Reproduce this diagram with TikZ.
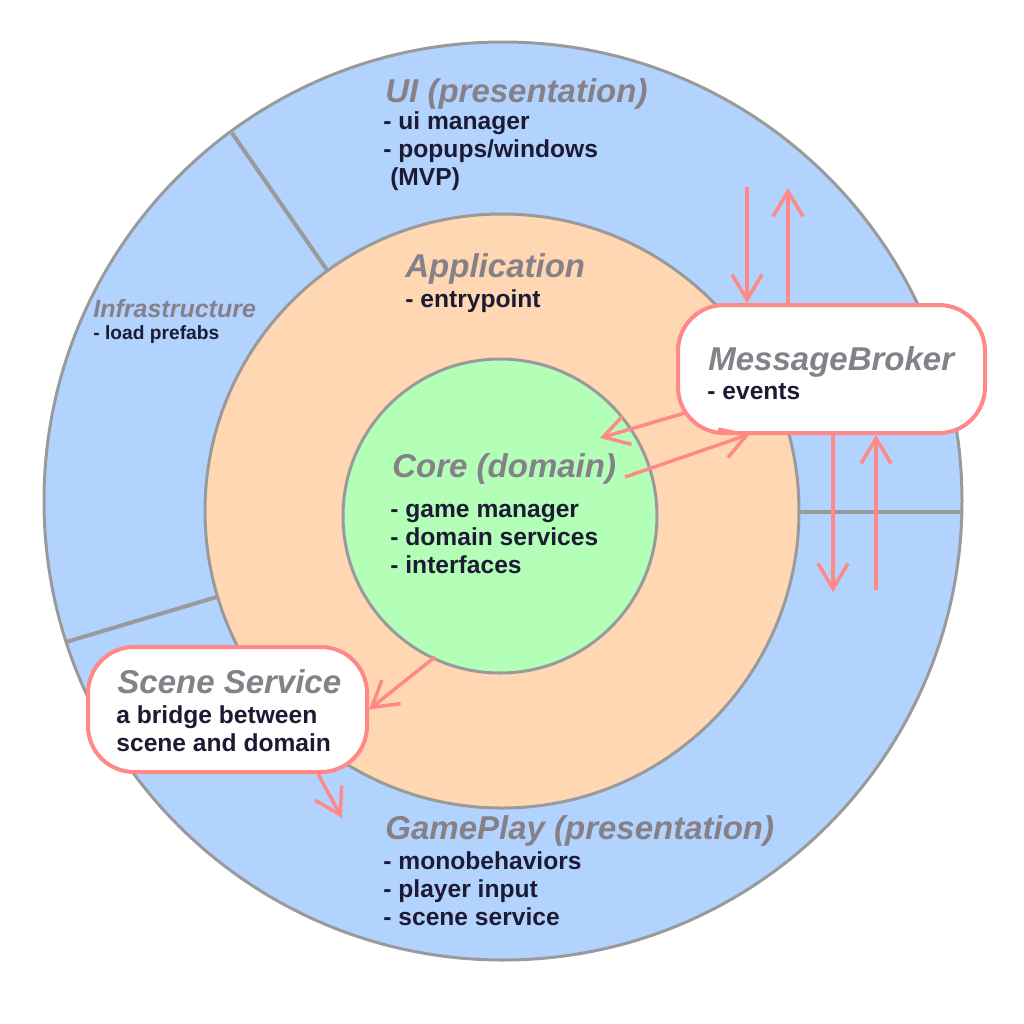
\documentclass[tikz,border=0pt]{standalone}
\usepackage{fontspec}
\setmainfont{Liberation Sans}
\usetikzlibrary{arrows.meta}
\definecolor{ringblue}{HTML}{B3D3FF}
\definecolor{ringpeach}{HTML}{FFD8B3}
\definecolor{ringgreen}{HTML}{B3FFB8}
\definecolor{edgegray}{HTML}{9A9A9A}
\definecolor{pinkline}{HTML}{FF8888}
\definecolor{titlegray}{HTML}{868088}
\definecolor{bodynavy}{HTML}{1C1B33}
\begin{document}
\begin{tikzpicture}[x=0.5pt,y=-0.5pt,
  ringstyle/.style={circle,draw=edgegray,line width=1.5pt,inner sep=0pt},
  divider/.style={draw=edgegray,line width=2pt},
  layertitle/.style={anchor=base west,inner sep=0pt,text=titlegray,font=\fontsize{16.5}{18}\selectfont\bfseries\itshape},
  layerbody/.style={anchor=base west,inner sep=0pt,text=bodynavy,align=left,font=\fontsize{12.3}{14}\selectfont\bfseries},
  arr/.style={draw=pinkline,line width=1.75pt,-{Straight Barb[length=12.5pt,width=15pt]}},
  bubble/.style={draw=pinkline,fill=white,line width=2pt,rounded corners=23pt,inner sep=0pt}]
\fill[white] (0,0) rectangle (1024,1024);
\useasboundingbox (0,0) rectangle (1024,1024);
% rings
\node[ringstyle, fill=ringblue, minimum size=459pt] (outer) at (503,501) {};
\draw[divider] (232,133) -- (329,273);
\draw[divider] (66,642) -- (220,596);
\draw[divider] (790,512) -- (962,512);
\node[ringstyle, fill=ringpeach, minimum size=297pt] (middle) at (502,511) {};
\node[ringstyle, fill=ringgreen, minimum size=157pt] (inner) at (500,516) {};
% free ends of connectors
\coordinate (mbInTop) at (747,187);
\coordinate (mbOutTop) at (788,188);
\coordinate (mbOutBot) at (833,592);
\coordinate (mbInBot) at (876,590);
\coordinate (coreIn) at (600,438);
\coordinate (mbLeftOut) at (685,413);
\coordinate (coreOut) at (625,477);
\coordinate (mbBotIn) at (750,434);
\coordinate (coreSS) at (435,657);
\coordinate (ssBotX) at (318,0);
\coordinate (gpTarget) at (342,818);
% boxes
\node[bubble, minimum width=153.5pt, minimum height=64pt] (mb) at (831.5,369) {};
\node[bubble, minimum width=139.5pt, minimum height=62.5pt] (ss) at (227.5,709.5) {};
% connectors
\draw[arr] (mbInTop) -- (mbInTop |- mb.north);
\draw[arr] (mbOutTop |- mb.north) -- (mbOutTop);
\draw[arr] (mbOutBot |- mb.south) -- (mbOutBot);
\draw[arr] (mbInBot) -- (mbInBot |- mb.south);
\draw[arr] (mbLeftOut) -- (coreIn);
\draw[arr] (coreOut) -- (mbBotIn);
\draw[arr] (coreSS) -- (ss.east);
\draw[arr] (ssBotX |- ss.south) -- (gpTarget);
% texts (multi-line blocks anchored at the baseline of their last line)
\node[layertitle] (uiT) at (385,102) {UI (presentation)};
\node[layerbody] (uiB) at (383,185) {- ui manager\\- popups/windows\\\hspace*{0.28em}(MVP)};
\node[layertitle] (appT) at (405,277) {Application};
\node[layerbody] (appB) at (405,307) {- entrypoint};
\node[layertitle, font=\fontsize{12.5}{14}\selectfont\bfseries\itshape] (infT) at (93,317) {Infrastructure};
\node[layerbody, font=\fontsize{9.6}{11}\selectfont\bfseries] (infB) at (93,339) {- load prefabs};
\node[layertitle] (coreT) at (392,477) {Core (domain)};
\node[layerbody] (coreB) at (390,573) {- game manager\\- domain services\\- interfaces};
\node[layertitle] (mbT) at (708,370) {MessageBroker};
\node[layerbody] (mbB) at (707,399) {- events};
\node[layertitle] (ssT) at (117,693) {Scene Service};
\node[layerbody] (ssB) at (116,751) {a bridge between\\scene and domain};
\node[layertitle] (gpT) at (385,839) {GamePlay (presentation)};
\node[layerbody] (gpB) at (383,925) {- monobehaviors\\- player input\\- scene service};
\end{tikzpicture}
\end{document}
